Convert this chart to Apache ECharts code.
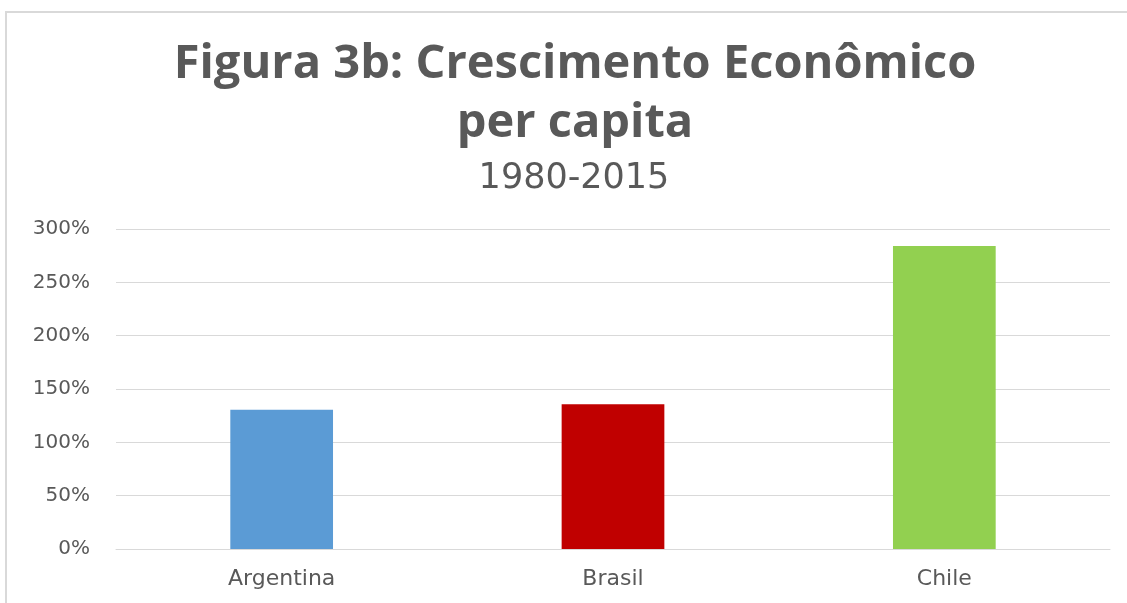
<!DOCTYPE html>
<html>
<head>
<meta charset="utf-8">
<title>Figura 3b</title>
<script src="https://cdn.jsdelivr.net/npm/echarts@6/dist/echarts.min.js"></script>
<style>
  html, body { margin: 0; padding: 0; background: #fff; }
  #chart { width: 1127px; height: 603px; }
</style>
</head>
<body>
<div id="chart"></div>
<script>
// dados
var paises = ['Argentina', 'Brasil', 'Chile']
var crescimento = [130.6, 135.6, 284]
var cores = ['#5b9bd5', '#c00000', '#92d050']

var chart = echarts.init(document.getElementById('chart'))
chart.setOption({
  animation: false,
  textStyle: { fontFamily: 'Open Sans' },
  graphic: [{
    type: 'rect',
    shape: { x: 6, y: 12, width: 1200, height: 700 },
    style: { fill: 'none', stroke: '#d9d9d9', lineWidth: 2 },
    silent: true
  }],
  title: [{
    text: 'Figura 3b: Crescimento Econômico\nper capita',
    left: 575,
    textAlign: 'center',
    top: 35,
    padding: 0,
    textStyle: {
      fontFamily: 'Open Sans',
      fontSize: 47,
      fontWeight: 'bold',
      color: '#595959',
      lineHeight: 59
    }
  }, {
    text: '1980-2015',
    left: 574,
    textAlign: 'center',
    top: 161,
    padding: 0,
    textStyle: {
      fontFamily: 'DejaVu Sans',
      fontSize: 35,
      fontWeight: 'normal',
      color: '#595959'
    }
  }],
  grid: {
    left: 116,
    right: 17,
    top: 229,
    bottom: 54
  },
  xAxis: {
    type: 'category',
    data: paises,
    axisLine: { show: true, lineStyle: { color: '#d9d9d9', width: 1 } },
    axisTick: { show: false },
    axisLabel: {
      color: '#595959',
      fontSize: 22,
      fontFamily: 'DejaVu Sans',
      margin: 19
    }
  },
  yAxis: {
    type: 'value',
    min: 0,
    max: 300,
    interval: 50,
    axisLine: { show: false },
    axisTick: { show: false },
    splitLine: { lineStyle: { color: '#d9d9d9', width: 1 } },
    axisLabel: {
      color: '#595959',
      fontSize: 20,
      fontFamily: 'DejaVu Sans',
      margin: 26,
      formatter: '{value}%'
    }
  },
  series: [{
    type: 'bar',
    barWidth: '31%',
    data: crescimento.map(function (v, i) {
      return { value: v, itemStyle: { color: cores[i] } }
    })
  }]
})
</script>
</body>
</html>
